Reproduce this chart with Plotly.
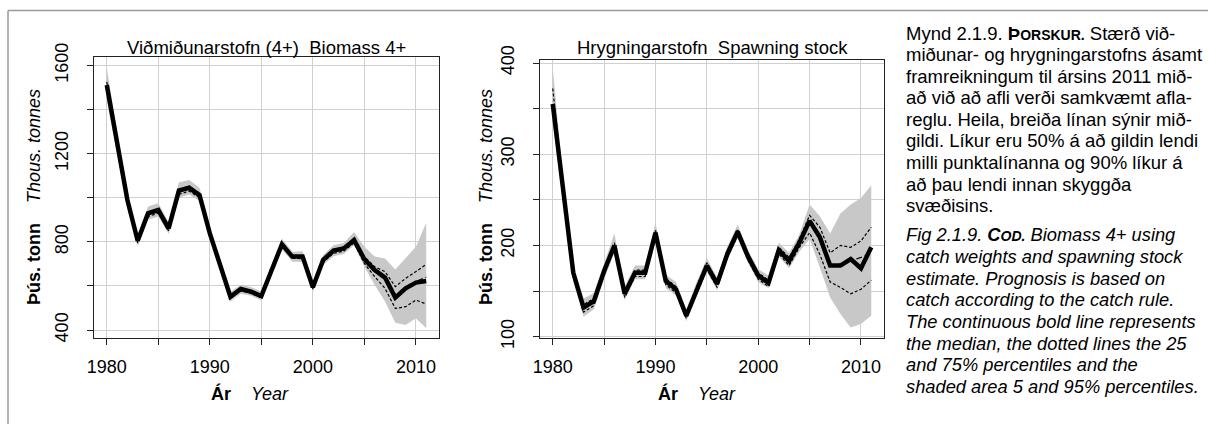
import plotly.graph_objects as go

# ---------------- data ----------------
years = list(range(1980, 2012))

# Biomass 4+ (thous. tonnes)
bio_median = [1511, 1246, 990, 805, 929, 944, 861, 1032, 1045, 1012, 838, 695, 551, 586,
              574, 554, 672, 789, 733, 733, 594, 718, 760, 770, 808, 721, 672, 638, 547,
              589, 615, 622]
bio_p75 = [1525, 1255, 998, 812, 936, 950, 868, 1040, 1052, 1020, 845, 700, 556, 590,
           578, 558, 677, 793, 738, 738, 599, 723, 766, 776, 815, 733, 687, 665, 597,
           634, 665, 698]
bio_p25 = [1495, 1235, 980, 795, 915, 930, 850, 1015, 1030, 1000, 828, 686, 543, 578,
           566, 546, 664, 780, 725, 724, 586, 708, 748, 758, 795, 702, 642, 589, 498,
           506, 536, 518]
bio_p95 = [1590, 1290, 1025, 830, 960, 975, 890, 1070, 1080, 1045, 865, 720, 572, 605,
           595, 575, 695, 815, 755, 757, 615, 740, 785, 795, 845, 778, 733, 725, 675,
           725, 778, 887]
bio_p05 = [1440, 1200, 955, 780, 900, 915, 835, 1000, 1015, 985, 815, 672, 530, 565,
           555, 535, 650, 765, 710, 710, 575, 695, 735, 745, 785, 687, 604, 529, 433,
           423, 453, 408]
bio_mean_years = [2008, 2009, 2010, 2011]
bio_mean = [552, 592, 620, 640]

# Spawning stock (thous. tonnes)
ssb_median = [355, 263, 170, 132, 139, 172, 200, 147, 170, 170, 214, 161, 152, 123,
              152, 178, 158, 191, 215, 188, 167, 159, 195, 183, 203, 227, 209, 178, 178,
              185, 175, 198]
ssb_p75 = [372, 268, 173, 135, 142, 175, 203, 150, 173, 173, 217, 164, 155, 125,
           155, 181, 161, 194, 218, 191, 170, 162, 198, 187, 207, 233, 220, 192, 200,
           198, 205, 220]
ssb_p25 = [350, 258, 166, 127, 134, 168, 196, 143, 166, 166, 210, 157, 148, 120,
           148, 174, 154, 187, 211, 184, 163, 155, 191, 178, 198, 214, 190, 160, 154,
           147, 152, 162]
ssb_p95 = [395, 275, 178, 142, 148, 180, 213, 155, 178, 178, 225, 168, 160, 130,
           160, 186, 165, 199, 223, 195, 174, 167, 203, 192, 212, 245, 232, 213, 235,
           245, 252, 266]
ssb_p05 = [335, 248, 160, 122, 130, 163, 192, 140, 163, 163, 205, 153, 145, 117,
           145, 171, 151, 184, 208, 181, 160, 153, 188, 175, 193, 207, 176, 143, 125,
           110, 114, 123]
ssb_mean_years = [2007, 2008, 2009, 2010, 2011]
ssb_mean = [178, 180, 183, 187, 192]

x_tickvals = [1980, 1985, 1990, 1995, 2000, 2005, 2010]
x_ticktext = ["1980", "", "1990", "", "2000", "", "2010"]
bio_tickvals = [400, 600, 800, 1000, 1200, 1400, 1600]
bio_ticktext = ["400", "", "800", "", "1200", "", "1600"]
ssb_tickvals = [100, 150, 200, 250, 300, 350, 400]
ssb_ticktext = ["100", "", "200", "", "300", "", "400"]

titles = ["Viðmiðunarstofn (4+)  Biomass 4+", "Hrygningarstofn  Spawning stock"]

caption_is = [
    "Mynd 2.1.9. <b>Þ<span style='font-size:14px'>ORSKUR.</span></b> Stærð við-",
    "miðunar- og hrygningarstofns ásamt",
    "framreikningum til ársins 2011 mið-",
    "að við að afli verði samkvæmt afla-",
    "reglu. Heila, breiða línan sýnir mið-",
    "gildi. Líkur eru 50% á að gildin lendi",
    "milli punktalínanna og 90% líkur á",
    "að þau lendi innan skyggða",
    "svæðisins.",
]
caption_en = [
    "Fig 2.1.9. <b>C<span style='font-size:14px'>OD.</span></b> Biomass 4+ using",
    "catch weights and spawning stock",
    "estimate. Prognosis is based on",
    "catch according to the catch rule.",
    "The continuous bold line represents",
    "the median, the dotted lines the 25",
    "and 75% percentiles and the",
    "shaded area 5 and 95% percentiles.",
]

# ---------------- figure ----------------
W, H = 1208, 424
FONT = "Liberation Sans, Arial, sans-serif"
BAND = "#c8c8c8"


def px(x):
    return x / W


def py(y):
    return 1 - y / H


fig = go.Figure()

panels = [
    dict(xa="x", ya="y", med=bio_median, p25=bio_p25, p75=bio_p75, p05=bio_p05,
         p95=bio_p95, my=bio_mean_years, mv=bio_mean),
    dict(xa="x2", ya="y2", med=ssb_median, p25=ssb_p25, p75=ssb_p75, p05=ssb_p05,
         p95=ssb_p95, my=ssb_mean_years, mv=ssb_mean),
]

for p in panels:
    # 5-95% shaded band
    fig.add_trace(go.Scatter(x=years + years[::-1], y=p["p95"] + p["p05"][::-1],
                             fill="toself", fillcolor=BAND, line=dict(width=0),
                             mode="lines", xaxis=p["xa"], yaxis=p["ya"],
                             hoverinfo="skip", showlegend=False))
    # 25% and 75% dotted lines
    for q in (p["p25"], p["p75"]):
        fig.add_trace(go.Scatter(x=years, y=q, mode="lines",
                                 line=dict(color="black", width=1.2, dash="3px,2px"),
                                 xaxis=p["xa"], yaxis=p["ya"], showlegend=False))
    # projected mean (long dash)
    fig.add_trace(go.Scatter(x=p["my"], y=p["mv"], mode="lines",
                             line=dict(color="black", width=1.2, dash="6px,3px"),
                             xaxis=p["xa"], yaxis=p["ya"], showlegend=False))
    # median
    fig.add_trace(go.Scatter(x=years, y=p["med"], mode="lines",
                             line=dict(color="black", width=4.5),
                             xaxis=p["xa"], yaxis=p["ya"], showlegend=False))

axis_common = dict(showline=True, linecolor="#222", linewidth=1, mirror=True,
                   showgrid=True, gridcolor="#d0d0d0", gridwidth=1,
                   ticks="outside", ticklen=6, tickcolor="#222", zeroline=False,
                   automargin=False,
                   tickfont=dict(family=FONT, size=18, color="black"))

fig.update_layout(
    width=W, height=H, margin=dict(l=0, r=0, t=0, b=0, autoexpand=False),
    paper_bgcolor="white", plot_bgcolor="white", showlegend=False,
    font=dict(family=FONT, color="black"),
    xaxis=dict(domain=[px(94), px(439)], range=[1978.76, 2012.24], anchor="y",
               tickvals=x_tickvals, ticktext=x_ticktext, ticklabelstandoff=6,
               **axis_common),
    yaxis=dict(domain=[py(338), py(57)], range=[364, 1638], anchor="x",
               tickvals=bio_tickvals, ticktext=bio_ticktext, tickangle=-90,
               ticklabelstandoff=12, **axis_common),
    xaxis2=dict(domain=[px(540), px(884)], range=[1978.76, 2012.24], anchor="y2",
                tickvals=x_tickvals, ticktext=x_ticktext, ticklabelstandoff=6,
                **axis_common),
    yaxis2=dict(domain=[py(338), py(60)], range=[98.6, 403.3], anchor="x2",
                tickvals=ssb_tickvals, ticktext=ssb_ticktext, tickangle=-90,
                ticklabelstandoff=12, **axis_common),
)

ann = []
# panel titles
for cx, t in zip((266.5, 712), titles):
    ann.append(dict(text=t, x=px(cx), y=py(47), xref="paper", yref="paper",
                    xanchor="center", yanchor="middle", showarrow=False,
                    font=dict(family=FONT, size=18.5)))
# axis titles
ytitle = "<b>Þús. tonn</b>\u00a0\u00a0\u00a0\u00a0<i>Thous. tonnes</i>"
for cx in (34, 486):
    ann.append(dict(text=ytitle, x=px(cx), y=py(197), xref="paper", yref="paper",
                    xanchor="center", yanchor="middle", textangle=-90,
                    showarrow=False, font=dict(family=FONT, size=18)))
xtitle = "<b>Ár</b>\u00a0\u00a0\u00a0\u00a0<i>Year</i>"
for cx in (250, 697):
    ann.append(dict(text=xtitle, x=px(cx), y=py(393), xref="paper", yref="paper",
                    xanchor="center", yanchor="middle", showarrow=False,
                    font=dict(family=FONT, size=18)))
# caption
LH = 21.6
for i, line in enumerate(caption_is):
    ann.append(dict(text=line, x=px(904), y=py(33 + i * LH), xref="paper",
                    yref="paper", xanchor="left", yanchor="middle", showarrow=False,
                    font=dict(family=FONT, size=18.5)))
for i, line in enumerate(caption_en):
    ann.append(dict(text="<i>" + line + "</i>", x=px(904), y=py(235 + i * LH),
                    xref="paper", yref="paper", xanchor="left", yanchor="middle",
                    showarrow=False, font=dict(family=FONT, size=18.3)))
fig.update_layout(annotations=ann)

# outer frame: top and left edges
fig.update_layout(shapes=[
    dict(type="line", xref="paper", yref="paper", x0=px(8), x1=1, y0=py(10.5),
         y1=py(10.5), line=dict(color="#9a9a9a", width=1.5)),
    dict(type="line", xref="paper", yref="paper", x0=px(8), x1=px(8), y0=py(10.5),
         y1=0, line=dict(color="#9a9a9a", width=1.5)),
])

fig.write_html("out.html")
